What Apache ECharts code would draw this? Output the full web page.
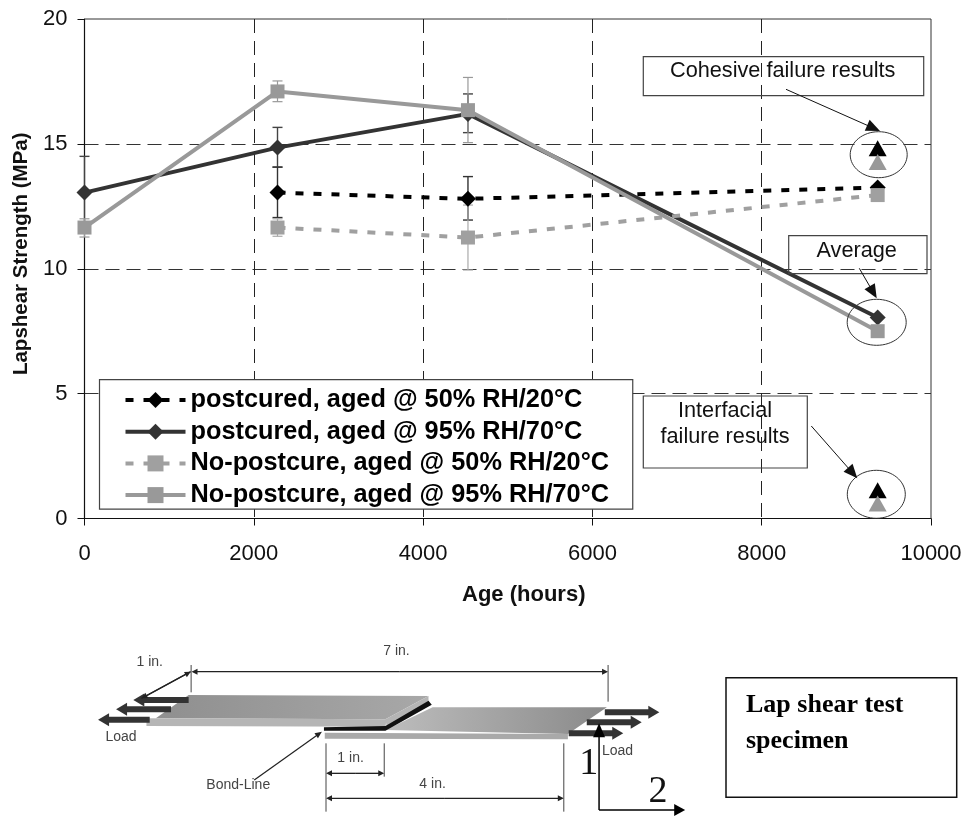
<!DOCTYPE html>
<html><head><meta charset="utf-8">
<style>html,body{margin:0;padding:0;background:#fff;overflow:hidden}#c{width:961px;height:817px}</style>
<script src="https://cdn.jsdelivr.net/npm/echarts@6/dist/echarts.min.js"></script>
</head><body><div id="c"></div>
<script>
// ---- data ----
const ages95 = [0, 2280, 4530, 9370];
const ages50 = [2280, 4530, 9370];
const post50 = [13.05, 12.8, 13.25];
const post95 = [13.05, 14.85, 16.2, 8.05];
const noPost50 = [11.65, 11.25, 12.95];
const noPost95 = [11.65, 17.1, 16.35, 7.5];
const post50Low = [12.05, 11.95], post50High = [14.07, 13.69];
const post95Low = [11.6, 14.07, 15.45], post95High = [14.5, 15.66, 17.0];
const noPost50Low = [11.3, 9.95], noPost50High = [12.0, 12.55];
const noPost95Low = [11.27, 16.69, 15.05], noPost95High = [12.0, 17.52, 17.66];
const cohesive = [[9370, 14.82], [9370, 14.27]];
const interfacial = [[9370, 1.13], [9370, 0.6]];
const seriesNames = ['postcured, aged @ 50% RH/20°C','postcured, aged @ 95% RH/70°C','No-postcure, aged @ 50% RH/20°C','No-postcure, aged @ 95% RH/70°C'];

const FONT = '"Liberation Sans", Arial, sans-serif';
const SERIF = '"Liberation Serif", "Times New Roman", serif';
const zip = (a, b) => a.map((v, i) => [v, b[i]]);
const bars = (a, lo, hi) => lo.map((v, i) => [a[i], v, hi[i]]);

function errSeries(data, color, width) {
  return { type: 'custom', silent: true, z: 3, clip: false, data,
    renderItem(p, api) {
      const x = api.value(0), a = api.coord([x, api.value(1)]), b = api.coord([x, api.value(2)]);
      const st = { stroke: color, lineWidth: width, fill: null };
      const c = 5;
      return { type: 'group', children: [
        { type: 'line', shape: { x1: a[0], y1: a[1], x2: b[0], y2: b[1] }, style: st },
        { type: 'line', shape: { x1: a[0]-c, y1: a[1], x2: a[0]+c, y2: a[1] }, style: st },
        { type: 'line', shape: { x1: b[0]-c, y1: b[1], x2: b[0]+c, y2: b[1] }, style: st }
      ]};
    } };
}
function lineSeries(name, data, color, dash, sym, size, z) {
  return { name, type: 'line', data, z, symbol: sym, symbolSize: size, showSymbol: true, clip: false,
    itemStyle: { color, opacity: 1 }, lineStyle: { color, width: 4, type: dash }, animation: false };
}
function tri(data, colors) {
  return { type: 'scatter', z: 5, symbol: 'triangle', symbolSize: [18, 16], data: data.map((d, i) => ({ value: d, itemStyle: { color: colors[i], opacity: 1 } })) };
}

// ---- annotation and specimen sketch helpers ----
const zx = v => 80 + v * 0.41, zy = v => 630 + v / 3;
function seg(x1, y1, x2, y2, w, color) {
  return { type: 'line', silent: true, shape: { x1, y1, x2, y2 }, style: { stroke: color, lineWidth: w } };
}
function head(x, y, fromX, fromY, len, wid, color) {
  const d = Math.hypot(x - fromX, y - fromY), ux = (x - fromX) / d, uy = (y - fromY) / d;
  const bx = x - ux * len, by = y - uy * len;
  return { type: 'polygon', silent: true, shape: { points: [[x, y], [bx - uy * wid, by + ux * wid], [bx + uy * wid, by - ux * wid]] }, style: { fill: color } };
}
function arrow(x1, y1, x2, y2, w, color, len, wid) {
  const d = Math.hypot(x2 - x1, y2 - y1), k = (d - len + 1) / d;
  return [seg(x1, y1, x1 + (x2 - x1) * k, y1 + (y2 - y1) * k, w, color), head(x2, y2, x1, y1, len, wid, color)];
}
function label(text, x, y, size, opt) {
  return { type: 'text', silent: true, x, y, style: Object.assign({ text, fill: '#111', font: size + 'px ' + FONT, align: 'center', verticalAlign: 'middle' }, opt || {}) };
}
function box(x1, y1, x2, y2, color) {
  return { type: 'rect', silent: true, shape: { x: x1, y: y1, width: x2 - x1, height: y2 - y1 }, style: { fill: 'none', stroke: color || '#444', lineWidth: 1.2 } };
}
function ell(cx, cy, rx, ry) {
  return { type: 'ellipse', silent: true, shape: { cx, cy, rx, ry }, style: { fill: 'none', stroke: '#333', lineWidth: 1 } };
}
function poly(pts, fill) {
  return { type: 'polygon', silent: true, shape: { points: pts.map(p => [zx(p[0]), zy(p[1])]) }, style: { fill } };
}
const grad = (a, b) => new echarts.graphic.LinearGradient(0, 0, 1, 0.3, [{ offset: 0, color: a }, { offset: 1, color: b }]);
function zArrow(a, b, c, d, w, color, len, wid) { return arrow(zx(a), zy(b), zx(c), zy(d), w, color, len, wid); }
function loadArrow(a, b, c, d) { return zArrow(a, b, c, d, 6, '#333', 11, 6.5); }
function dim(a, b, c, d) {
  return [].concat(zArrow((a + c) / 2, (b + d) / 2, a, b, 1.3, '#222', 6, 3), zArrow((a + c) / 2, (b + d) / 2, c, d, 1.3, '#222', 6, 3));
}

const sketch = [].concat(
  [poly([[265,195],[850,198],[745,268],[185,265]], grad('#8f8f8f','#a8a8a8')),
   poly([[162,265],[748,268],[745,290],[162,288]], '#b5b5b5'),
   poly([[860,232],[1285,232],[1190,312],[745,300]], grad('#bdbdbd','#8a8a8a')),
   poly([[597,308],[1190,312],[1190,328],[597,326]], '#a9a9a9'),
   poly([[745,268],[850,198],[850,214],[748,290]], '#b5b5b5'),
   poly([[595,292],[745,288],[850,212],[858,224],[745,302],[595,302]], '#111')],
  loadArrow(265,210,130,210), loadArrow(222,238,88,238), loadArrow(170,269,44,269),
  loadArrow(1280,247,1413,247), loadArrow(1236,277,1370,277), loadArrow(1192,310,1325,310),
  zArrow(270,125,150,205,1.3,'#222',6,3), zArrow(150,205,270,125,1.3,'#222',6,3),
  dim(272,125,1288,125), dim(600,430,742,430), dim(600,505,1180,505),
  zArrow(425,450,590,305,1.2,'#222',7,3),
  [seg(zx(271),zy(105),zx(271),zy(187),1,'#444'), seg(zx(1288),zy(105),zx(1288),zy(215),1,'#444'),
   seg(zx(600),zy(340),zx(600),zy(545),1,'#444'), seg(zx(742),zy(340),zx(742),zy(440),1,'#444'),
   seg(zx(1180),zy(340),zx(1180),zy(545),1,'#444')],
  arrow(zx(1266),zy(540),zx(1266),zy(280),1.5,'#000',14,6),
  arrow(zx(1266),zy(540),zx(1476),zy(540),1.5,'#000',11,6),
  [label('7 in.', zx(772), zy(63), 14, { fill: '#444' }), label('1 in.', zx(170), zy(95), 14, { fill: '#444' }),
   label('Load', zx(100), zy(321), 14, { fill: '#444' }), label('Load', zx(1311), zy(362), 14, { fill: '#444' }),
   label('1 in.', zx(660), zy(385), 14, { fill: '#444' }), label('4 in.', zx(860), zy(462), 14, { fill: '#444' }),
   label('Bond-Line', zx(386), zy(465), 14, { fill: '#444' }),
   label('1', zx(1241), zy(401), 38, { font: '38px ' + SERIF }), label('2', zx(1410), zy(486), 38, { font: '38px ' + SERIF })]
);

const notes = [].concat(
  [box(643.3,56.7,923.7,95.7), box(788.7,235.7,927,273.7), box(643.3,396,807.3,468),
   ell(878.7,154.7,28.5,23), ell(876.7,322.3,29.5,23), ell(876.3,494.3,29,24)],
  arrow(786,89.3,880,131,1,'#111',14,6), arrow(859.3,268.3,876.7,298.3,1,'#111',14,6), arrow(811.3,426,857.3,478.3,1,'#111',14,6),
  [label('Cohesive failure results', 782.7, 71, 21.7), label('Average', 856.7, 251, 21.7),
   label('Interfacial', 725, 411.5, 21.7), label('failure results', 725, 437.5, 21.7)]
);
const specimen = [
  { type: 'rect', silent: true, shape: { x: 726, y: 677.7, width: 230.7, height: 119.6 }, style: { fill: '#fff', stroke: '#111', lineWidth: 1.5 } },
  { type: 'text', silent: true, x: 746, y: 705.7, style: { text: 'Lap shear test', fill: '#000', font: 'bold 26px ' + SERIF, align: 'left', verticalAlign: 'middle' } },
  { type: 'text', silent: true, x: 746, y: 741.7, style: { text: 'specimen', fill: '#000', font: 'bold 26px ' + SERIF, align: 'left', verticalAlign: 'middle' } }
];

const chart = echarts.init(document.getElementById('c'), null, { renderer: 'canvas' });
chart.setOption({
  animation: false,
  backgroundColor: '#fff',
  grid: { left: 84.5, top: 19, right: 30, bottom: 298.5, outerBoundsMode: 'none', show: true, borderColor: '#333', borderWidth: 1, backgroundColor: 'transparent' },
  xAxis: { type: 'value', min: 0, max: 10000, interval: 2000,
    name: 'Age (hours)', nameLocation: 'middle', nameGap: 65,
    nameTextStyle: { fontFamily: FONT, fontWeight: 'bold', fontSize: 22, color: '#111', padding: [0, 0, 0, 32] },
    axisLine: { onZero: false, lineStyle: { color: '#111', width: 1.2 } },
    axisTick: { show: true, length: 7, lineStyle: { color: '#111' } },
    axisLabel: { fontFamily: FONT, fontSize: 22, color: '#111', margin: 24, hideOverlap: false, formatter: v => String(v) },
    splitLine: { show: true, showMinLine: false, showMaxLine: false, lineStyle: { color: '#222', width: 1, type: [14, 8] } } },
  yAxis: { type: 'value', min: 0, max: 20, interval: 5,
    name: 'Lapshear Strength (MPa)', nameLocation: 'middle', nameGap: 52,
    nameTextStyle: { fontFamily: FONT, fontWeight: 'bold', fontSize: 20.5, color: '#111', padding: [0, 0, 0, 30] },
    axisLine: { onZero: false, lineStyle: { color: '#111', width: 1.2 } },
    axisTick: { show: true, length: 7, lineStyle: { color: '#111' } },
    axisLabel: { fontFamily: FONT, fontSize: 22, color: '#111', margin: 17 },
    splitLine: { show: true, showMinLine: false, showMaxLine: false, lineStyle: { color: '#333', width: 1, type: [14, 7] } } },
  legend: { data: seriesNames, orient: 'vertical', left: 99.5, top: 379.7,
    padding: [7.8, 23.7, 1.5, 24], itemWidth: 60, itemHeight: 20, itemGap: 6.7, backgroundColor: '#fff', borderColor: '#444', borderWidth: 1.2,
    selectedMode: false, z: 20, lineStyle: { width: 4 },
    textStyle: { fontFamily: FONT, fontWeight: 'bold', fontSize: 25.3, color: '#000' } },
  tooltip: { show: false },
  series: [
    errSeries(bars(ages95, post95Low, post95High), '#444', 1.4),
    errSeries(bars(ages50, post50Low, post50High), '#333', 1.4),
    errSeries(bars(ages95, noPost95Low, noPost95High), '#999', 1.2),
    errSeries(bars(ages50, noPost50Low, noPost50High), '#aaa', 1.2),
    lineSeries(seriesNames[0], zip(ages50, post50), '#000', [8, 10], 'diamond', 16, 4),
    lineSeries(seriesNames[1], zip(ages95, post95), '#333', 'solid', 'diamond', 16, 5),
    lineSeries(seriesNames[2], zip(ages50, noPost50), '#a0a0a0', [8, 10], 'rect', 14, 5),
    lineSeries(seriesNames[3], zip(ages95, noPost95), '#999', 'solid', 'rect', 14, 6),
    tri(cohesive, ['#000', '#999']),
    tri(interfacial, ['#000', '#999'])
  ],
  graphic: { elements: [].concat(notes, sketch, specimen).map(e => Object.assign({ z: 30 }, e)) }
});
</script></body></html>
